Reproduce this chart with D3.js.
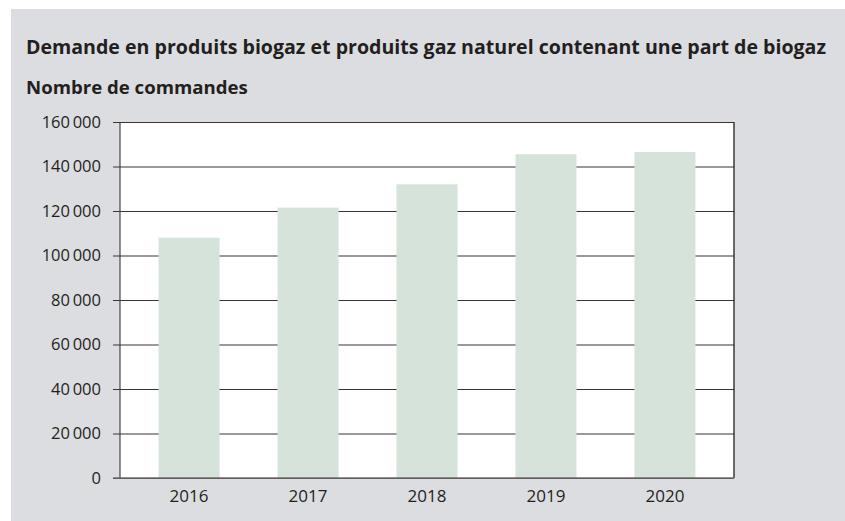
<!DOCTYPE html>
<html>
<head>
<meta charset="utf-8">
<script src="https://cdn.jsdelivr.net/npm/d3@7"></script>
<style>
  body { margin: 0; background: #fff; }
  svg { display: block; }
  text { fill: #231f20; font-family: "Open Sans", sans-serif; }
</style>
</head>
<body>
<div id="chart"></div>
<script>
// data
const years = ['2016', '2017', '2018', '2019', '2020'];
const orders = [108000, 121500, 132000, 145500, 146500];
const yTicks = [0, 20000, 40000, 60000, 80000, 100000, 120000, 140000, 160000];

const title = 'Demande en produits biogaz et produits gaz naturel contenant une part de biogaz';
const subtitle = 'Nombre de commandes';

const W = 845, H = 521;
const margin = {top: 122, right: 111, bottom: 43, left: 120};

const svg = d3.select('#chart').append('svg')
  .attr('width', W)
  .attr('height', H);

// grey panel
svg.append('rect')
  .attr('x', 11).attr('y', 9)
  .attr('width', W - 11).attr('height', H - 9)
  .attr('fill', '#dcdde0');

const fr = d3.formatLocale({decimal: ',', thousands: '\u2009', grouping: [3], currency: ['', ' €']});
const fmt = fr.format(',d');

const x = d3.scaleBand()
  .domain(years)
  .range([margin.left, W - margin.right])
  .paddingInner(0.487)
  .paddingOuter(0.324);

const y = d3.scaleLinear()
  .domain([0, 160000])
  .range([H - margin.bottom, margin.top]);

// plot area
svg.append('rect')
  .attr('x', margin.left).attr('y', margin.top)
  .attr('width', W - margin.right - margin.left)
  .attr('height', H - margin.bottom - margin.top)
  .attr('fill', '#fff');

// gridlines + ticks
const yAxis = d3.axisLeft(y)
  .tickValues(yTicks)
  .tickSize(-(W - margin.right - margin.left))
  .tickFormat(fmt);

const gy = svg.append('g')
  .attr('transform', 'translate(' + margin.left + ',0)')
  .call(yAxis);
gy.select('.domain').remove();
gy.selectAll('.tick line')
  .attr('x1', -7)
  .attr('stroke', '#3a3436')
  .attr('stroke-width', 1.1);
gy.selectAll('.tick text')
  .attr('x', -19)
  .attr('dy', '0.33em')
  .style('font-size', '16.5px')
  .style('font-family', '"Open Sans", sans-serif')
  .attr('fill', '#231f20');

// bars
svg.selectAll('.bar')
  .data(years)
  .enter().append('rect')
  .attr('class', 'bar')
  .attr('x', d => x(d))
  .attr('width', x.bandwidth())
  .attr('y', (d, i) => y(orders[i]))
  .attr('height', (d, i) => y(0) - y(orders[i]))
  .attr('fill', '#d5e3da');

// left & right border, baseline
svg.append('line')
  .attr('x1', margin.left).attr('x2', margin.left)
  .attr('y1', margin.top).attr('y2', y(0))
  .attr('stroke', '#3a3436').attr('stroke-width', 1.1);
svg.append('line')
  .attr('x1', W - margin.right).attr('x2', W - margin.right)
  .attr('y1', margin.top).attr('y2', y(0))
  .attr('stroke', '#231f20').attr('stroke-width', 1.3);
svg.append('line')
  .attr('x1', margin.left - 7).attr('x2', W - margin.right)
  .attr('y1', y(0)).attr('y2', y(0))
  .attr('stroke', '#6f6b6c').attr('stroke-width', 1.5);

// x labels
const xAxis = d3.axisBottom(x).tickSize(0).tickPadding(0);
const gx = svg.append('g')
  .attr('transform', 'translate(0,' + y(0) + ')')
  .call(xAxis);
gx.select('.domain').remove();
gx.selectAll('.tick text')
  .attr('y', 24)
  .attr('dy', 0)
  .style('font-size', '17px')
  .style('font-family', '"Open Sans", sans-serif')
  .attr('fill', '#231f20');

// titles, sized to the widths of the original
function fitText(sel, width) {
  const w = sel.node().getComputedTextLength();
  sel.style('font-size', (17 * width / w).toFixed(2) + 'px');
}

const t = svg.append('text')
  .attr('x', 26).attr('y', 54)
  .style('font-weight', 700)
  .style('font-size', '17px')
  .text(title);
fitText(t, 800);

const s = svg.append('text')
  .attr('x', 26).attr('y', 94)
  .style('font-weight', 700)
  .style('font-size', '17px')
  .text(subtitle);
fitText(s, 222);
</script>
</body>
</html>
